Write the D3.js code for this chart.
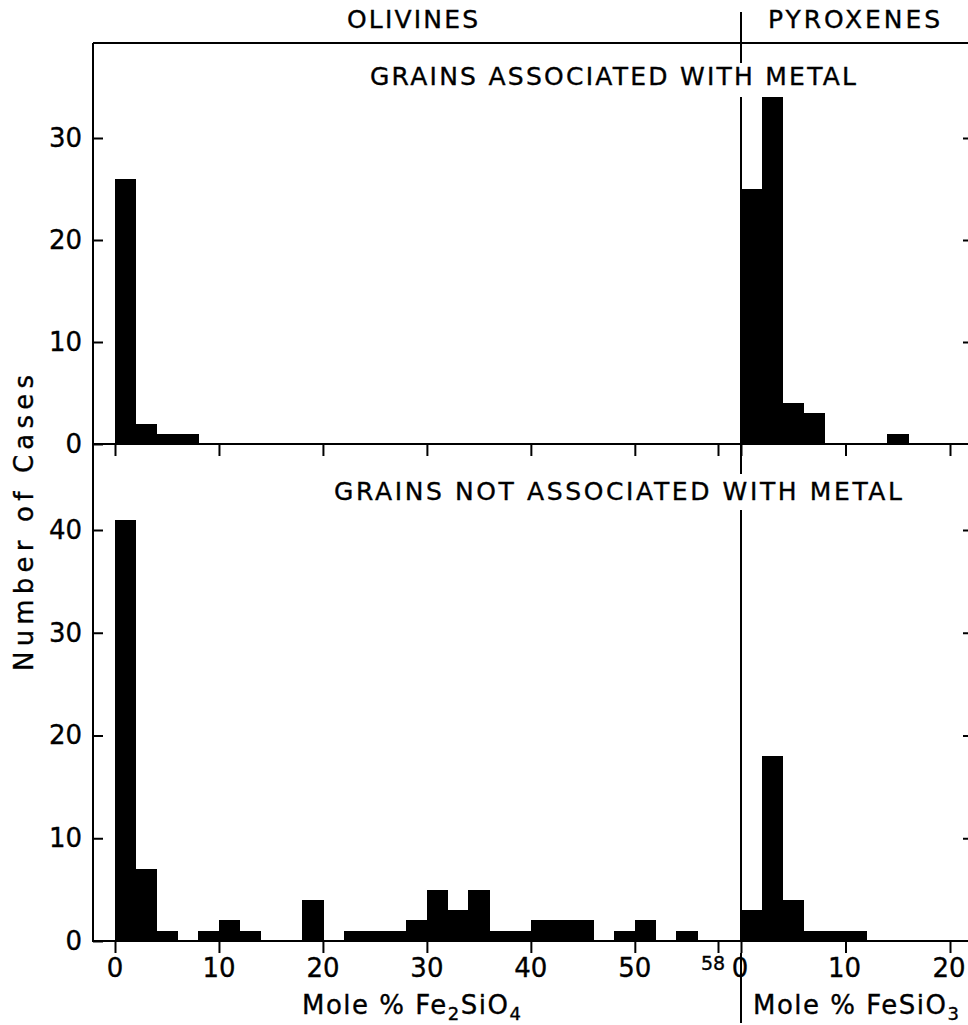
<!DOCTYPE html>
<html><head><meta charset="utf-8">
<script src="https://cdn.jsdelivr.net/npm/d3@7"></script>
<style>
body{margin:0;background:#fff}
svg{display:block}
text{font-family:"DejaVu Sans",sans-serif;fill:#000;stroke:#000;stroke-width:0.35}
</style>
</head><body>
<svg id="c" width="968" height="1025"></svg>
<script>
// ---- data ----
const olivineBins = [0,2,4,6,8,10,12,14,16,18,20,22,24,26,28,30,32,34,36,38,40,42,44,46,48,50,52,54,56];
const pyroxeneBins = [0,2,4,6,8,10,12,14,16,18];
const olivineWithMetal    = [26,2,1,1,0,0,0,0,0,0,0,0,0,0,0,0,0,0,0,0,0,0,0,0,0,0,0,0,0];
const pyroxeneWithMetal   = [25,34,4,3,0,0,0,1,0,0];
const olivineNoMetal      = [41,7,1,0,1,2,1,0,0,4,0,1,1,1,2,5,3,5,1,1,2,2,2,0,1,2,0,1,0];
const pyroxeneNoMetal     = [3,18,4,1,1,1,0,0,0,0];
const olivineTicks = [0,10,20,30,40,50,58];
const pyroxeneTicks = [0,10,20];
const yTicksTop = [0,10,20,30];
const yTicksBottom = [0,10,20,30,40];
const binWidth = 2;

// ---- layout ----
const svg = d3.select("#c");
const L = 93, R = 973, T = 43, MID = 444, B = 941, DIV = 741;
const xO = d3.scaleLinear().domain([0,58]).range([115,718]);
const xP = d3.scaleLinear().domain([0,20]).range([741,950]);
const yT = d3.scaleLinear().domain([0,30]).range([MID,138]);
const yB = d3.scaleLinear().domain([0,40]).range([B,530]);

// ---- bars ----
function bars(bins, vals, x, y){
  const d = bins.map((b,i)=>({b, v:vals[i]})).filter(e=>e.v>0);
  svg.append("g").attr("shape-rendering","crispEdges").selectAll("rect").data(d).join("rect")
    .attr("x", e=>x(e.b)).attr("width", e=>x(e.b+binWidth)-x(e.b)+0.6)
    .attr("y", e=>y(e.v)).attr("height", e=>y(0)-y(e.v))
    .attr("fill","#000");
}
bars(olivineBins, olivineWithMetal, xO, yT);
bars(pyroxeneBins, pyroxeneWithMetal, xP, yT);
bars(olivineBins, olivineNoMetal, xO, yB);
bars(pyroxeneBins, pyroxeneNoMetal, xP, yB);

// ---- frame lines ----
const lines = [
  [L,T,R,T],[L,T,L,B],[L,MID,R,MID],[L-1,B,R,B],
  [DIV,12,DIV,63],[DIV,97,DIV,MID],[DIV,MID,DIV,474],[DIV,510,DIV,B],[DIV,953,DIV,1023]
];
svg.append("g").selectAll("line").data(lines).join("line")
  .attr("x1",d=>d[0]).attr("y1",d=>d[1]).attr("x2",d=>d[2]).attr("y2",d=>d[3])
  .attr("stroke","#000").attr("stroke-width",2);

// ---- axes (ticks) ----
function clean(g){ g.select(".domain").remove(); g.selectAll("line").attr("stroke","#000").attr("stroke-width",2); }
svg.append("g").attr("transform",`translate(0,${MID})`)
  .call(d3.axisBottom(xO).tickValues(olivineTicks).tickSize(12).tickFormat("")).call(clean);
svg.append("g").attr("transform",`translate(0,${MID})`)
  .call(d3.axisBottom(xP).tickValues(pyroxeneTicks).tickSize(12).tickFormat("")).call(clean);
svg.append("g").attr("transform",`translate(0,${B})`)
  .call(d3.axisBottom(xO).tickValues(olivineTicks).tickSize(12).tickFormat("")).call(clean);
svg.append("g").attr("transform",`translate(0,${B})`)
  .call(d3.axisBottom(xP).tickValues(pyroxeneTicks).tickSize(12).tickFormat("")).call(clean);

function yAxis(scale, ticks){
  svg.append("g").attr("transform",`translate(${L},0)`)
    .call(d3.axisLeft(scale).tickValues(ticks).tickSize(-10).tickPadding(11).tickFormat(d3.format("d")))
    .call(clean)
    .call(g=>g.selectAll("text").attr("font-size",26).attr("font-family","DejaVu Sans").attr("fill","#000"));
  svg.append("g").attr("transform",`translate(${R},0)`)
    .call(d3.axisLeft(scale).tickValues(ticks.filter(t=>t>0)).tickSize(10).tickFormat(""))
    .call(clean);
}
yAxis(yT, yTicksTop);
yAxis(yB, yTicksBottom);

// ---- x tick labels ----
svg.append("g").selectAll("text").data(olivineTicks).join("text")
  .attr("x", d=> d===58 ? xO(d)-5 : xO(d))
  .attr("y", d=> d===58 ? 970 : 977)
  .attr("text-anchor","middle")
  .attr("font-size", d=> d===58 ? 19 : 26)
  .text(d=>d);
svg.append("g").selectAll("text").data(pyroxeneTicks).join("text")
  .attr("x", d=>xP(d)-1).attr("y",977).attr("text-anchor","middle").attr("font-size",26)
  .text(d=>d);

// ---- titles ----
function label(txt, x, y, len, size){
  svg.append("text").attr("x",x).attr("y",y).attr("font-size",size)
    .attr("textLength",len).attr("lengthAdjust","spacing").text(txt);
}
label("OLIVINES", 347, 28, 131, 25);
label("PYROXENES", 768, 28, 172, 25);
label("GRAINS ASSOCIATED WITH METAL", 370, 85, 486, 25);
label("GRAINS NOT ASSOCIATED WITH METAL", 334, 500, 568, 25);

svg.append("text").attr("transform","translate(33,523) rotate(-90)")
  .attr("x",-148).attr("font-size",26).attr("textLength",296).attr("lengthAdjust","spacing")
  .text("Number of Cases");

function chem(x, y, parts){
  const t = svg.append("text").attr("x",x).attr("y",y).attr("font-size",26).attr("letter-spacing",1.5);
  parts.forEach(p=>{
    const s = t.append("tspan").text(p[0]);
    if(p[1]==="sub") s.attr("font-size",18).attr("dy",6);
    else if(p[1]==="up") s.attr("dy",-6);
  });
}
chem(302, 1014, [["Mole % Fe"],["2","sub"],["SiO","up"],["4","sub"]]);
chem(753, 1014, [["Mole % FeSiO"],["3","sub"]]);
</script>
</body></html>
